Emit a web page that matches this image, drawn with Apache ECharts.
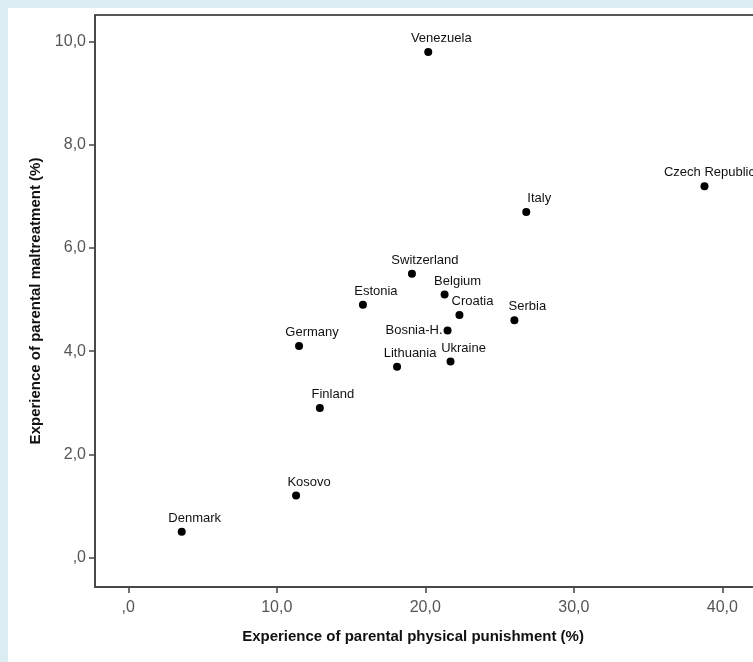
<!DOCTYPE html>
<html>
<head>
<meta charset="utf-8">
<script src="https://cdn.jsdelivr.net/npm/echarts@6/dist/echarts.min.js"></script>
<style>
html,body{margin:0;padding:0;background:#dbecf3;}
#chart{width:753px;height:662px;}
</style>
</head>
<body>
<div id="chart"></div>
<script>
var countries = ['Venezuela','Czech Republic','Italy','Switzerland','Belgium','Estonia','Croatia','Serbia','Bosnia-H.','Germany','Ukraine','Lithuania','Finland','Kosovo','Denmark'];
var punishment = [20.2, 38.8, 26.8, 19.1, 21.3, 15.8, 22.3, 26.0, 21.5, 11.5, 21.7, 18.1, 12.9, 11.3, 3.6];
var maltreatment = [9.8, 7.2, 6.7, 5.5, 5.1, 4.9, 4.7, 4.6, 4.4, 4.1, 3.8, 3.7, 2.9, 1.2, 0.5];
var xTicks = [0, 10, 20, 30, 40];
var yTicks = [0, 2, 4, 6, 8, 10];

function fmt(v){
  var s = v.toFixed(1).replace('.', ',');
  if (s.indexOf('0,') === 0) s = s.substring(1);
  return s;
}

var labelOverrides = {
  'Czech Republic': {offset: [5, 0]},
  'Bosnia-H.': {position: 'left', distance: 1, offset: [0, 0]}
};

var points = countries.map(function(c, i){
  var item = {name: c, value: [punishment[i], maltreatment[i]]};
  if (labelOverrides[c]) item.label = labelOverrides[c];
  return item;
});

var chart = echarts.init(document.getElementById('chart'));
var font = '"Liberation Sans", Arial, sans-serif';
chart.setOption({
  backgroundColor: '#dbecf3',
  animation: false,
  graphic: [{
    type: 'rect', z: -10, silent: true,
    shape: {x: 8, y: 8, width: 760, height: 670},
    style: {fill: '#ffffff'}
  }],
  grid: {
    left: 95, top: 15, width: 668, height: 572,
    outerBoundsMode: 'none', containLabel: false,
    show: true, borderColor: '#222', borderWidth: 1.5, backgroundColor: '#ffffff'
  },
  xAxis: {
    type: 'value', min: -2.24, max: 42.74,
    splitLine: {show: false},
    axisLine: {onZero: false, lineStyle: {color: '#444', width: 1.5}},
    axisTick: {show: true, length: 6, lineStyle: {color: '#444', width: 1.5}, customValues: xTicks},
    axisLabel: {customValues: xTicks, formatter: fmt, color: '#555', fontSize: 16, fontFamily: font, margin: 13},
    name: 'Experience of parental physical punishment (%)',
    nameLocation: 'middle', nameGap: 42,
    nameTextStyle: {fontWeight: 'bold', fontSize: 15, color: '#111', fontFamily: font, padding: [0, 32, 0, 0]}
  },
  yAxis: {
    type: 'value', min: -0.574, max: 10.52,
    splitLine: {show: false},
    axisLine: {onZero: false, lineStyle: {color: '#444', width: 1.5}},
    axisTick: {show: true, length: 6, lineStyle: {color: '#444', width: 1.5}, customValues: yTicks},
    axisLabel: {customValues: yTicks, formatter: fmt, color: '#555', fontSize: 16, fontFamily: font, margin: 9},
    name: 'Experience of parental maltreatment (%)',
    nameLocation: 'middle', nameGap: 52,
    nameTextStyle: {fontWeight: 'bold', fontSize: 15, color: '#111', fontFamily: font}
  },
  series: [{
    type: 'scatter',
    data: points,
    symbol: 'circle',
    symbolSize: 8,
    itemStyle: {color: '#000', opacity: 1},
    label: {
      show: true, position: 'top', distance: 3, offset: [13, 0],
      formatter: '{b}', color: '#111', fontSize: 13, fontFamily: font
    }
  }]
});
</script>
</body>
</html>
